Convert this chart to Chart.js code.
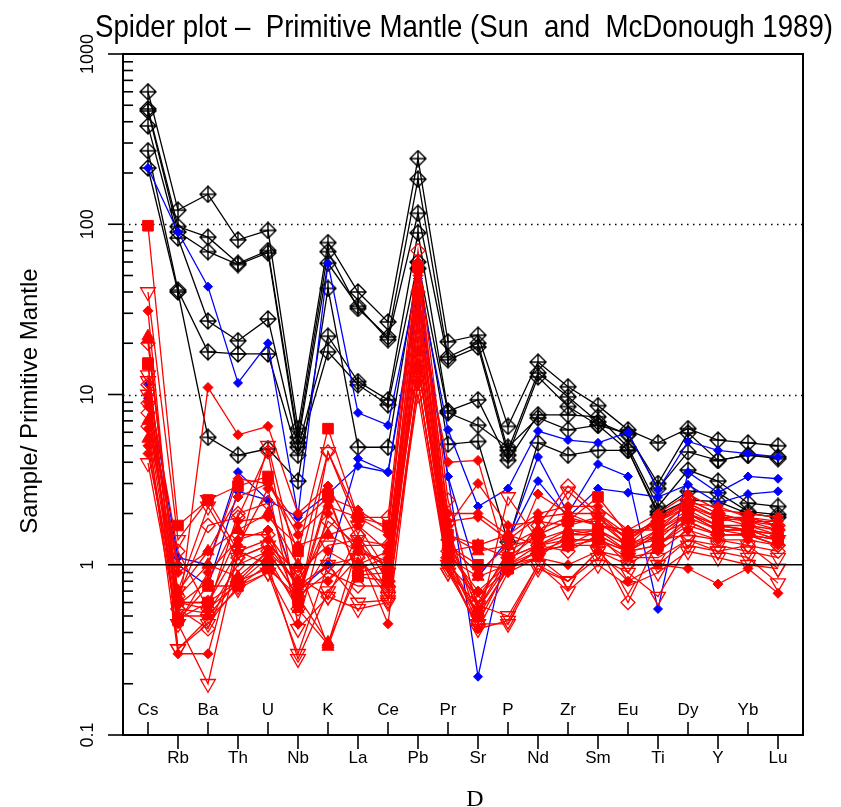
<!DOCTYPE html>
<html>
<head>
<meta charset="utf-8">
<script src="https://cdn.jsdelivr.net/npm/chart.js@4.4.0/dist/chart.umd.min.js"></script>
<style>
  html, body { margin: 0; padding: 0; background: #fff; }
  canvas { display: block; }
</style>
</head>
<body>
<canvas id="spider" width="841" height="807"></canvas>
<script>
// Elements, in plotting order
const elements = ['Cs', 'Rb', 'Ba', 'Th', 'U', 'Nb', 'K', 'La', 'Ce', 'Pb', 'Pr',
                  'Sr', 'P', 'Nd', 'Zr', 'Sm', 'Eu', 'Ti', 'Dy', 'Y', 'Yb', 'Lu'];
const yTicks = [0.1, 1, 10, 100, 1000];
const yTickLabels = ['0.1', '1', '10', '100', '1000'];

// Black samples (diamond + cross)
const blackS1 = [600, 121, 150, 81, 92, 6.3, 78, 40, 26.7, 243, 20.4, 22.3, 6.5, 15.5, 11.1, 8.6, 6.2, 5.2, 6.3, 5.4, 5.2, 5.0];
const blackS2 = [476, 97, 84, 59, 70, 5.6, 69, 32, 21.8, 184, 16.6, 20, 4.7, 13.4, 9.7, 6.9, 5.8, 3.0, 5.95, 4.1, 4.4, 4.3];
const blackS3 = [463, 90, 69, 58, 68, 5.2, 59, 33, 21, 116, 16, 19, 4.4, 12.7, 8.5, 6.6, 5.9, 2.8, 4.6, 4.1, 4.4, 4.2];
const blackS4 = [378, 83, 27, 20.7, 27.8, 4.9, 22, 11.9, 9.3, 89, 8.0, 9.3, 4.1, 7.6, 7.6, 7.4, 4.9, 2.2, 3.6, 3.1, 2.3, 2.2];
const blackS5 = [270, 41, 17.8, 17.3, 17.3, 4.4, 17.8, 11.4, 8.7, 60, 7.8, 6.6, 4.9, 7.3, 6.2, 6.6, 4.7, 2.05, 2.7, 2.65, 2.05, 1.97];
const blackS6 = [214, 40, 5.6, 4.4, 4.8, 3.1, 42, 4.9, 4.9, 55, 5.1, 5.3, 1.36, 5.2, 4.4, 4.7, 4.7, 1.97, 2.4, 2.35, 2.0, 1.9];

// Blue samples (small filled diamonds)
const blueS1 = [214, 90, 43, 11.7, 20, 1.95, 59, 7.8, 6.6, 48, 6.2, 2.2, 2.8, 6.1, 5.4, 5.2, 6.0, 2.75, 5.3, 4.7, 4.5, 4.3];
const blueS2 = [11.5, 1.1, 1.0, 3.5, 2.4, 0.7, 1.0, 4.2, 3.5, 40, 3.3, 0.22, 1.4, 4.3, 2.0, 3.9, 3.3, 0.55, 3.5, 2.65, 3.3, 3.2];
const blueS3 = [9.5, 1.0, 0.75, 2.7, 2.4, 1.9, 2.6, 3.8, 3.5, 35, 3.3, 0.85, 1.4, 3.1, 1.9, 2.8, 2.65, 2.5, 2.95, 2.3, 2.6, 2.7];

// Red samples
const red01 = [98, 1.7, 2.4, 2.9, 3.3, 1.2, 6.3, 1.9, 1.7, 56, 1.5, 1.3, 1.1, 1.5, 1.8, 2.5, 1.5, 1.8, 2.2, 1.9, 1.8, 1.6];
const red02 = [40, 1.4, 2.4, 1.2, 5.0, 0.95, 4.6, 1.7, 0.9, 14, 1.7, 0.45, 2.5, 1.4, 2.7, 1.9, 1.3, 1.6, 2.0, 1.6, 1.5, 1.4];
const red03 = [31, 0.48, 11, 5.8, 6.5, 2.0, 2.9, 1.4, 1.3, 28, 4.0, 4.1, 1.0, 2.6, 2.0, 1.7, 1.6, 1.6, 2.3, 2.2, 1.9, 1.8];
const red04 = [22, 0.65, 1.0, 0.85, 1.2, 0.8, 1.5, 1.2, 1.0, 28, 1.2, 1.3, 1.5, 1.3, 1.6, 1.5, 1.2, 1.5, 2.0, 1.7, 1.7, 1.5];
const red05 = [20, 0.65, 1.7, 1.9, 4.6, 0.55, 4.6, 1.9, 1.9, 70, 2.4, 0.55, 1.0, 1.7, 2.9, 2.0, 1.4, 1.8, 2.4, 2.0, 1.8, 1.7];
const red06 = [15.3, 0.47, 0.75, 0.75, 1.0, 0.6, 2.5, 0.87, 0.9, 56, 1.3, 1.0, 0.95, 1.2, 1.4, 1.4, 1.2, 1.3, 1.9, 1.6, 1.6, 1.4];
const red07 = [13, 0.32, 0.48, 0.72, 0.9, 0.42, 0.65, 0.55, 0.6, 12, 0.95, 0.42, 0.47, 1.0, 0.7, 1.0, 0.75, 0.9, 1.2, 1.1, 1.0, 0.95];
const red08 = [11.4, 1.2, 0.55, 2.0, 2.3, 0.7, 1.8, 1.3, 1.3, 40, 1.4, 0.6, 1.2, 1.5, 1.8, 1.8, 1.3, 1.9, 2.3, 1.9, 1.7, 1.6];
const red09 = [8.9, 0.55, 0.42, 1.1, 1.3, 0.75, 1.0, 1.1, 0.7, 20, 1.0, 0.5, 0.95, 1.2, 1.3, 1.3, 0.6, 1.4, 1.5, 1.4, 1.3, 1.2];
const red10 = [7.8, 0.6, 0.6, 1.5, 1.5, 0.85, 0.65, 1.5, 0.8, 25, 1.2, 0.65, 1.1, 1.3, 1.2, 1.5, 1.0, 1.3, 1.7, 1.5, 1.5, 1.3];
const red11 = [7.0, 0.7, 1.2, 1.6, 2.0, 1.0, 0.33, 1.0, 1.2, 14, 1.5, 1.2, 1.3, 1.6, 1.9, 1.7, 1.5, 1.7, 2.2, 1.8, 1.9, 1.7];
const red12 = [5.5, 0.5, 0.5, 0.8, 1.2, 0.65, 0.35, 0.9, 1.0, 15, 1.1, 0.85, 1.0, 1.1, 1.5, 1.6, 1.3, 1.5, 2.0, 1.6, 1.6, 1.5];
const red13 = [3.96, 0.45, 0.2, 1.2, 1.0, 0.28, 0.7, 1.1, 0.65, 10, 0.9, 0.45, 0.45, 0.95, 0.8, 1.1, 0.9, 0.65, 1.3, 1.2, 1.1, 0.78];
const red14 = [6.3, 0.3, 0.3, 1.3, 2.8, 0.45, 2.0, 1.2, 0.45, 12, 1.0, 0.42, 0.9, 1.1, 1.0, 1.2, 0.8, 1.0, 0.95, 0.77, 0.95, 0.68];
const red15 = [10, 0.9, 1.2, 2.5, 3.0, 1.7, 2.5, 2.1, 1.6, 50, 2.0, 2.0, 1.5, 2.0, 2.2, 2.2, 1.6, 2.0, 2.6, 2.1, 2.0, 1.9];
const red16 = [8.5, 0.58, 0.8, 1.8, 1.9, 1.3, 1.5, 1.7, 1.2, 30, 1.7, 3.0, 1.7, 1.8, 1.7, 1.9, 1.4, 1.9, 2.4, 2.0, 1.8, 1.8];
const red17 = [12, 0.32, 0.45, 0.75, 0.9, 0.3, 1.0, 0.6, 0.62, 12, 0.9, 0.58, 0.5, 1.0, 0.8, 1.2, 1.1, 1.1, 1.4, 1.3, 1.2, 1.1];
const red18 = [21, 0.6, 0.55, 0.78, 1.1, 0.55, 0.34, 1.3, 0.95, 28, 1.3, 0.9, 1.3, 1.4, 1.6, 1.6, 1.2, 1.6, 2.1, 1.7, 1.6, 1.5];
const red19 = [5.0, 0.45, 0.9, 1.4, 1.6, 0.6, 1.2, 0.95, 1.1, 18, 1.2, 0.7, 1.0, 1.2, 1.3, 1.4, 1.1, 1.2, 1.6, 1.4, 1.4, 1.3];
const red20 = [6.5, 0.55, 0.52, 1.0, 1.2, 0.65, 0.9, 0.75, 0.75, 22, 1.1, 0.45, 1.0, 1.3, 1.4, 1.4, 1.2, 1.3, 1.8, 1.5, 1.5, 1.3];
const red21 = [15, 0.48, 0.6, 0.8, 0.95, 0.65, 2.6, 0.85, 0.8, 40, 1.1, 0.5, 0.95, 1.2, 1.3, 1.6, 1.3, 1.4, 2.0, 1.7, 1.6, 1.4];
const red22 = [9, 1.0, 1.0, 3.2, 3.0, 1.5, 2.2, 1.9, 1.5, 60, 1.8, 1.9, 1.4, 1.9, 2.0, 2.0, 1.5, 1.8, 2.3, 1.9, 1.9, 1.7];
const red23 = [10, 0.7, 2.2, 1.1, 1.3, 0.9, 1.3, 1.4, 0.7, 16, 1.0, 0.65, 0.95, 1.1, 0.8, 1.2, 1.0, 1.0, 1.4, 1.2, 1.3, 0.95];
const red24 = [4.5, 0.6, 0.6, 1.2, 1.4, 0.75, 0.8, 1.2, 1.05, 35, 1.4, 0.55, 1.1, 1.3, 1.5, 1.5, 1.2, 1.5, 1.8, 1.5, 1.5, 1.4];

const blackSeries = [blackS1, blackS2, blackS3, blackS4, blackS5, blackS6];
const blueSeries = [blueS1, blueS2, blueS3];
const redSeries = [red01, red02, red03, red04, red05, red06, red07, red08, red09, red10, red11, red12,
                   red13, red14, red15, red16, red17, red18, red19, red20, red21, red22, red23, red24];
// symbol used for each red sample
const redSymbols = ['square', 'openTri', 'diamond', 'triangle', 'openDiamond', 'square', 'openTri', 'openDiamond',
                    'openDiamond', 'openDiamond', 'triangle', 'triangle', 'openTri', 'diamond', 'diamond', 'diamond',
                    'openTri', 'triangle', 'diamond', 'openDiamond', 'square', 'diamond', 'openTri', 'diamond'];

const RED = '#ff0000';
const BLUE = '#0000ff';
const BLACK = '#000000';

// diamond with a plus inside, as a point image
function diamondPlus(size, color) {
    const c = document.createElement('canvas');
    c.width = c.height = size;
    const g = c.getContext('2d');
    const h = size / 2, r = h - 1;
    g.strokeStyle = color;
    g.lineWidth = 1.4;
    g.beginPath();
    g.moveTo(h, h - r); g.lineTo(h + r, h); g.lineTo(h, h + r); g.lineTo(h - r, h); g.closePath();
    g.moveTo(h, h - r); g.lineTo(h, h + r);
    g.moveTo(h - r, h); g.lineTo(h + r, h);
    g.stroke();
    return c;
}

const symbolStyles = {
    diamond:     { pointStyle: 'rectRot', radius: 5, fill: true, rotation: 0 },
    openDiamond: { pointStyle: 'rectRot', radius: 7, fill: false, rotation: 0 },
    openTri:     { pointStyle: 'triangle', radius: 8.5, fill: false, rotation: 180 },
    square:      { pointStyle: 'rect', radius: 7.5, fill: true, rotation: 0 },
    triangle:    { pointStyle: 'triangle', radius: 7, fill: true, rotation: 0 }
};

function toPoints(values) {
    return values.map((v, i) => ({ x: i, y: v }));
}

function makeDataset(values, color, sym) {
    return {
        data: toPoints(values),
        borderColor: color,
        borderWidth: 1.3,
        pointStyle: sym.pointStyle,
        pointRadius: sym.radius,
        pointRotation: sym.rotation,
        pointBorderColor: color,
        pointBorderWidth: sym.fill ? 1 : 1.3,
        pointBackgroundColor: sym.fill ? color : 'rgba(0,0,0,0)',
        tension: 0,
        fill: false
    };
}

const blackMarker = diamondPlus(18, BLACK);

// index 0 is painted last in Chart.js, so reds go first to sit on top
const datasets = [];
redSeries.forEach((s, i) => datasets.push(makeDataset(s, RED, symbolStyles[redSymbols[i]])));
blueSeries.forEach(s => datasets.push(makeDataset(s, BLUE, { pointStyle: 'rectRot', radius: 4.5, fill: true, rotation: 0 })));
blackSeries.forEach(s => datasets.push(makeDataset(s, BLACK, { pointStyle: blackMarker, radius: 9, fill: false, rotation: 0 })));

// Axes, frame and texts drawn by hand, R style
const frame = {
    id: 'frame',
    beforeDatasetsDraw(chart) {
        const { ctx, chartArea: a, scales: { y } } = chart;
        ctx.save();
        ctx.strokeStyle = BLACK;
        ctx.lineWidth = 1.3;
        ctx.setLineDash([1.5, 4.5]);
        [10, 100].forEach(v => {
            const py = Math.round(y.getPixelForValue(v)) + 0.5;
            ctx.beginPath();
            ctx.moveTo(a.left, py);
            ctx.lineTo(a.right, py);
            ctx.stroke();
        });
        ctx.restore();
    },
    afterDatasetsDraw(chart) {
        const { ctx, chartArea: a, scales: { x, y } } = chart;
        ctx.save();
        ctx.strokeStyle = BLACK;
        ctx.fillStyle = BLACK;

        // reference line at 1
        ctx.lineWidth = 1.6;
        const p1 = y.getPixelForValue(1);
        ctx.beginPath(); ctx.moveTo(a.left, p1); ctx.lineTo(a.right, p1); ctx.stroke();

        // box
        ctx.lineWidth = 2;
        ctx.strokeRect(a.left, a.top, a.right - a.left, a.bottom - a.top);

        // y ticks: majors outwards, minors inwards
        ctx.lineWidth = 1.6;
        yTicks.forEach((v, k) => {
            const py = y.getPixelForValue(v);
            ctx.beginPath(); ctx.moveTo(a.left - 15, py); ctx.lineTo(a.left, py); ctx.stroke();
            if (k < yTicks.length - 1) {
                for (let m = 2; m <= 9; m++) {
                    const pm = y.getPixelForValue(v * m);
                    ctx.beginPath(); ctx.moveTo(a.left, pm); ctx.lineTo(a.left + 10, pm); ctx.stroke();
                }
            }
        });

        // y tick labels, rotated
        ctx.font = '18px "Liberation Sans", Arial, sans-serif';
        ctx.textAlign = 'center';
        ctx.textBaseline = 'middle';
        yTicks.forEach((v, k) => {
            const py = y.getPixelForValue(v);
            ctx.save();
            ctx.translate(a.left - 35, py);
            ctx.rotate(-Math.PI / 2);
            ctx.fillText(yTickLabels[k], 0, 0);
            ctx.restore();
        });

        // x ticks and element names, alternating above / below the axis
        ctx.font = '17px "Liberation Sans", Arial, sans-serif';
        ctx.textBaseline = 'alphabetic';
        elements.forEach((el, i) => {
            const px = x.getPixelForValue(i);
            ctx.beginPath();
            if (i % 2 === 0) {
                ctx.moveTo(px, a.bottom); ctx.lineTo(px, a.bottom - 13);
                ctx.stroke();
                ctx.fillText(el, px, a.bottom - 20);
            } else {
                ctx.moveTo(px, a.bottom); ctx.lineTo(px, a.bottom + 14);
                ctx.stroke();
                ctx.fillText(el, px, a.bottom + 28);
            }
        });

        // y axis title
        ctx.font = '24px "Liberation Sans", Arial, sans-serif';
        ctx.textBaseline = 'middle';
        ctx.save();
        ctx.translate(30, 401);
        ctx.rotate(-Math.PI / 2);
        ctx.fillText('Sample/ Primitive Mantle', 0, 0);
        ctx.restore();

        // main title
        const cx = (a.left + a.right) / 2;
        ctx.font = '32px "Liberation Sans Narrow", "Liberation Sans", Arial, sans-serif';
        ctx.textBaseline = 'alphabetic';
        ctx.fillText('Spider plot \u2013  Primitive Mantle (Sun  and  McDonough 1989)', cx + 1, 37, 738);

        // x axis title
        ctx.font = '24px "Liberation Serif", "DejaVu Serif", serif';
        ctx.fillText('D', cx + 12, 806);

        ctx.restore();
    }
};

new Chart(document.getElementById('spider'), {
    type: 'line',
    data: { datasets: datasets },
    options: {
        responsive: false,
        animation: false,
        devicePixelRatio: 1,
        events: [],
        layout: { padding: { left: 123, top: 54, right: 38, bottom: 72 } },
        plugins: { legend: { display: false }, tooltip: { enabled: false } },
        scales: {
            x: { type: 'linear', min: -0.833, max: 21.833, display: false },
            y: { type: 'logarithmic', min: 0.1, max: 1000, display: false }
        }
    },
    plugins: [frame]
});
</script>
</body>
</html>
